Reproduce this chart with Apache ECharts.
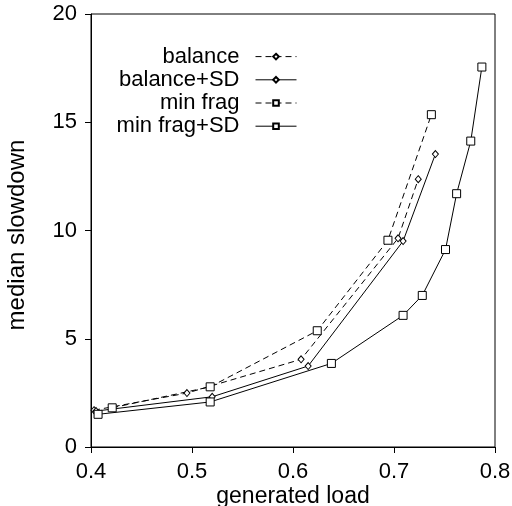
<!DOCTYPE html>
<html><head><meta charset="utf-8">
<script src="https://cdn.jsdelivr.net/npm/echarts@6/dist/echarts.min.js"></script>
<style>html,body{margin:0;padding:0;background:#fff}#c{width:512px;height:506px}</style>
</head><body><div id="c"></div>
<script>
const seriesNames = ['balance', 'balance+SD', 'min frag', 'min frag+SD'];
const balanceX = [0.403, 0.495, 0.608, 0.704, 0.724];
const balanceY = [1.70, 2.49, 4.05, 9.64, 12.37];
const balanceSDX = [0.405, 0.520, 0.615, 0.709, 0.741];
const balanceSDY = [1.66, 2.32, 3.74, 9.51, 13.53];
const minFragX = [0.421, 0.518, 0.624, 0.694, 0.737];
const minFragY = [1.81, 2.78, 5.37, 9.55, 15.35];
const minFragSDX = [0.407, 0.518, 0.638, 0.709, 0.728, 0.751, 0.762, 0.776, 0.787];
const minFragSDY = [1.51, 2.08, 3.86, 6.08, 7.00, 9.12, 11.70, 14.13, 17.55];
const xTicks = [0.4, 0.5, 0.6, 0.7, 0.8];
const yTicks = [0, 5, 10, 15, 20];

const FONT = "'Liberation Sans', Arial, sans-serif";
function pairs(xs, ys) { return xs.map((x, i) => [x, ys[i]]); }
function mk(name, xs, ys, dashed, sym) {
  return {
    name, type: 'line', data: pairs(xs, ys),
    symbol: sym === 'sq' ? 'rect' : 'diamond',
    symbolSize: sym === 'sq' ? 8 : [6, 7],
    showSymbol: true,
    lineStyle: { color: '#000', width: 1, type: dashed ? [6, 4] : 'solid' },
    itemStyle: { color: '#fff', borderColor: '#000', borderWidth: 1 },
    emphasis: { disabled: true },
    animation: false
  };
}
const chart = echarts.init(document.getElementById('c'));
chart.setOption({
  animation: false,
  backgroundColor: '#fff',
  grid: { left: 91, right: 17, top: 14, bottom: 59, show: true, borderColor: '#000', borderWidth: 1,
          containLabel: false, outerBoundsMode: 'none' },
  xAxis: {
    type: 'value', min: xTicks[0], max: xTicks[xTicks.length - 1], interval: 0.1,
    name: 'generated load', nameLocation: 'middle', nameGap: 38, nameMoveOverlap: false,
    nameTextStyle: { fontFamily: FONT, fontSize: 23, color: '#000' },
    axisLine: { lineStyle: { color: '#000', width: 1 } },
    axisTick: { show: true, inside: false, length: 6, lineStyle: { color: '#000' } },
    axisLabel: { fontFamily: FONT, fontSize: 22, color: '#000', margin: 14, formatter: v => v.toFixed(1) },
    splitLine: { show: false }
  },
  yAxis: {
    type: 'value', min: yTicks[0], max: yTicks[yTicks.length - 1], interval: 5,
    name: 'median slowdown', nameLocation: 'middle', nameGap: 62, nameRotate: 90, nameMoveOverlap: false,
    nameTextStyle: { fontFamily: FONT, fontSize: 24, color: '#000', padding: [0, 9, 0, 0] },
    axisLine: { show: true, lineStyle: { color: '#000', width: 1 } },
    axisTick: { show: true, inside: false, length: 6, lineStyle: { color: '#000' } },
    axisLabel: { fontFamily: FONT, fontSize: 22, color: '#000', margin: 14 },
    splitLine: { show: false }
  },
  legend: {
    orient: 'vertical', align: 'right', right: 215, top: 45, padding: 0,
    itemWidth: 41, itemHeight: 7, itemGap: 0,
    lineStyle: { width: 1 },
    textStyle: { fontFamily: FONT, fontSize: 22, color: '#000', lineHeight: 23.2, padding: [0, 11, 0, 0] },
    data: seriesNames
  },
  series: [
    mk(seriesNames[0], balanceX, balanceY, true, 'di'),
    mk(seriesNames[1], balanceSDX, balanceSDY, false, 'di'),
    mk(seriesNames[2], minFragX, minFragY, true, 'sq'),
    mk(seriesNames[3], minFragSDX, minFragSDY, false, 'sq')
  ]
});
</script></body></html>
